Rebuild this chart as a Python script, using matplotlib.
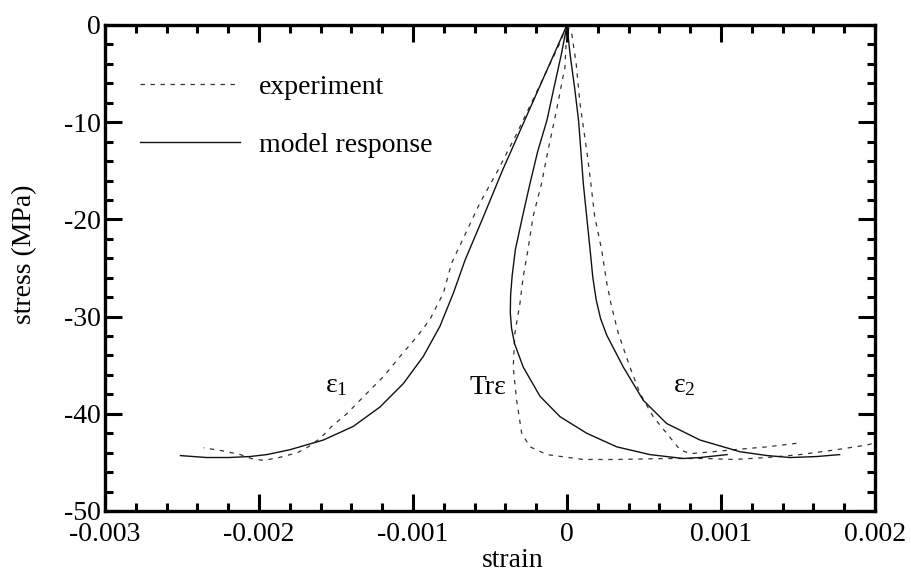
import numpy as np
import matplotlib
matplotlib.use("Agg")
import matplotlib.pyplot as plt
from matplotlib.ticker import MultipleLocator

plt.rcParams['font.family'] = ['Liberation Serif', 'DejaVu Serif']
plt.rcParams['axes.unicode_minus'] = False

# strain values in units of 1e-3, stress in MPa
e1_mod_x = [0, -0.14, -0.28, -0.42, -0.55, -0.662, -0.738, -0.825, -0.933, -1.063,
            -1.214, -1.388, -1.582, -1.80, -1.95, -2.06, -2.20, -2.34, -2.51]
e1_mod_y = [0, -5, -10, -15, -20, -24.2, -27.6, -31.0, -34.1, -36.9,
            -39.3, -41.3, -42.7, -43.7, -44.2, -44.4, -44.5, -44.5, -44.3]

e1_exp_x = [0, -0.05, -0.17, -0.33, -0.45, -0.565, -0.66, -0.749, -0.803, -0.89,
            -0.976, -1.084, -1.193, -1.30, -1.43, -1.528, -1.60, -1.68, -1.75, -1.87,
            -1.97, -2.05, -2.12, -2.24, -2.36]
e1_exp_y = [0, -2, -6, -11.3, -15, -18.3, -21.5, -24.5, -27.6, -30.3,
            -32.1, -34.1, -36.2, -37.9, -40.0, -41.3, -42.5, -43.4, -44.0, -44.5,
            -44.8, -44.6, -44.2, -43.8, -43.5]

tr_mod_x = [0, -0.035, -0.085, -0.13, -0.19, -0.24, -0.29, -0.335, -0.356, -0.366,
            -0.368, -0.36, -0.34, -0.284, -0.175, -0.045, 0.128, 0.323, 0.539, 0.755,
            0.864, 1.04]
tr_mod_y = [0, -2.9, -6.5, -9.8, -13, -16.3, -19.8, -23.1, -25.8, -27.8,
            -29.6, -31.2, -32.8, -35.2, -38.2, -40.3, -42.0, -43.4, -44.2, -44.6,
            -44.5, -44.2]

tr_exp_x = [0, -0.013, -0.067, -0.123, -0.165, -0.22, -0.253, -0.285, -0.305, -0.338,
            -0.349, -0.327, -0.294, -0.24, -0.13, 0.106, 0.323, 0.65, 0.90, 1.08,
            1.30, 1.51, 1.75, 1.95, 2.0]
tr_exp_y = [0, -4.3, -8.7, -12.9, -16.3, -19.7, -23.1, -26.0, -28.6, -31.7,
            -35.2, -38.6, -42.0, -43.4, -44.2, -44.7, -44.7, -44.6, -44.6, -44.7,
            -44.5, -44.2, -43.7, -43.2, -43.0]

e2_mod_x = [0, 0.02, 0.05, 0.075, 0.09, 0.106, 0.128, 0.15, 0.168, 0.19, 0.218,
            0.258, 0.366, 0.495, 0.647, 0.864, 1.123, 1.30, 1.45, 1.62, 1.77]
e2_mod_y = [0, -3, -6.5, -9.8, -12.9, -16.3, -19.7, -23.1, -26.0, -28.3, -30.2,
            -31.9, -35.2, -38.6, -41.0, -42.7, -43.9, -44.3, -44.5, -44.4, -44.2]

e2_exp_x = [0, 0.03, 0.06, 0.084, 0.128, 0.155, 0.18, 0.225, 0.258, 0.29, 0.333,
            0.409, 0.474, 0.56, 0.647, 0.734, 0.80, 0.95, 1.08, 1.30, 1.51]
e2_exp_y = [0, -0.8, -4, -8, -12.9, -16.3, -19.7, -23.1, -26.5, -29.0, -31.7,
            -35.2, -37.9, -40.3, -42.0, -43.7, -44.1, -43.9, -43.7, -43.4, -43.0]

labels = [r'$\mathregular{ε_1}$', 'Trε', r'$\mathregular{ε_2}$']
label_x = [-1.57, -0.63, 0.69]
label_y = [-37.8, -38.0, -37.8]

xticks = [-0.003, -0.002, -0.001, 0, 0.001, 0.002]
xtick_labels = ['-0.003', '-0.002', '-0.001', '0', '0.001', '0.002']
yticks = [-50, -40, -30, -20, -10, 0]

fig = plt.figure(figsize=(9.12, 5.81), dpi=100)
ax = fig.add_axes([0.1151, 0.1205, 0.8443, 0.8365])

dash = dict(ls=(0, (3.5, 4.5)), lw=0.9, color='#333333')
solid = dict(ls='-', lw=1.0, color='#111111')

pairs = [(e1_exp_x, e1_exp_y, e1_mod_x, e1_mod_y),
         (tr_exp_x, tr_exp_y, tr_mod_x, tr_mod_y),
         (e2_exp_x, e2_exp_y, e2_mod_x, e2_mod_y)]
for i, (xe, ye, xm, ym) in enumerate(pairs):
    ax.plot(np.array(xe) * 1e-3, ye, label='experiment' if i == 0 else None, **dash)
    ax.plot(np.array(xm) * 1e-3, ym, label='model response' if i == 0 else None, **solid)

for t, x, y in zip(labels, label_x, label_y):
    ax.text(x * 1e-3, y, t, fontsize=20, ha='left', va='baseline')

ax.set_xlim(-0.003, 0.002)
ax.set_ylim(-50, 0)
ax.set_xticks(xticks)
ax.set_xticklabels(xtick_labels)
ax.set_yticks(yticks)
ax.xaxis.set_minor_locator(MultipleLocator(0.0002))
ax.yaxis.set_minor_locator(MultipleLocator(2))
ax.tick_params(which='both', direction='in', top=True, right=True, labelsize=20)
ax.tick_params(which='major', length=12, width=2.2)
ax.tick_params(which='minor', length=5.5, width=2.2)
ax.tick_params(axis='x', pad=8)
ax.tick_params(axis='y', pad=3)
for s in ax.spines.values():
    s.set_linewidth(2.4)

ax.set_xlabel('strain', fontsize=20)
ax.set_ylabel('stress (MPa)', fontsize=20)
ax.xaxis.set_label_coords(0.529, -0.077)
ax.yaxis.set_label_coords(-0.088, 0.529)

ax.legend(loc='upper left', bbox_to_anchor=(0.045, 0.899), frameon=False,
          fontsize=20, handlelength=3.6, handletextpad=0.7, labelspacing=1.18,
          borderpad=0, borderaxespad=0)

fig.savefig('out.png', dpi=100)
